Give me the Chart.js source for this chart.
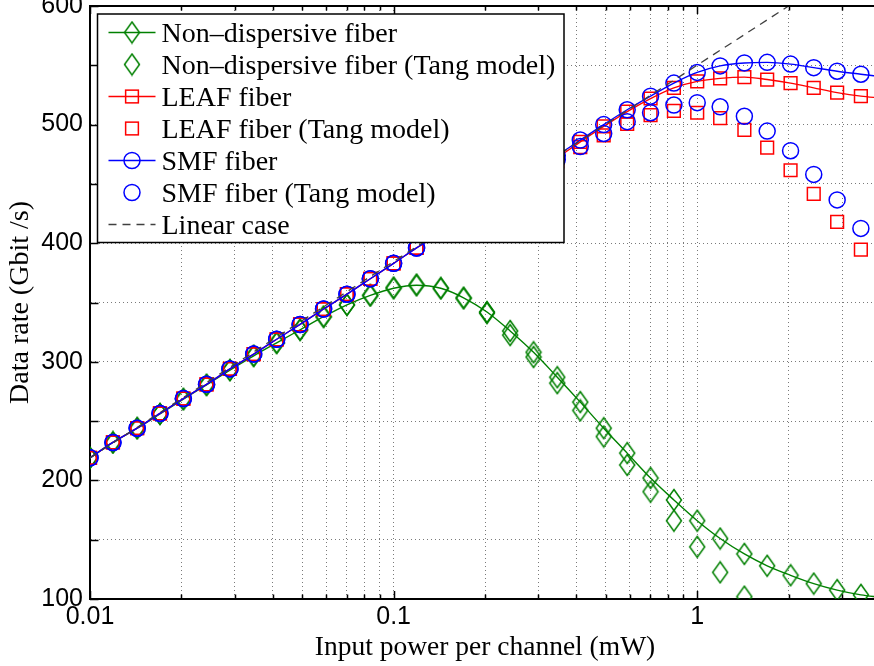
<!DOCTYPE html>
<html>
<head>
<meta charset="utf-8">
<script src="https://cdn.jsdelivr.net/npm/chart.js@4.4.0/dist/chart.umd.min.js"></script>
<style>
  html, body { margin: 0; padding: 0; background: #fff; overflow: hidden; }
  #wrap { width: 874px; height: 666px; overflow: hidden; }
</style>
</head>
<body>
<div id="wrap"><canvas id="chart" width="890" height="666"></canvas></div>
<script>
// input power per channel (mW), same grid for every curve
const powerMw = [0.01, 0.0119, 0.0143, 0.017, 0.0203, 0.0242, 0.0289, 0.0346, 0.0412, 0.0492,
  0.0588, 0.0702, 0.0838, 0.1, 0.119, 0.143, 0.17, 0.203, 0.242, 0.289,
  0.346, 0.412, 0.492, 0.588, 0.702, 0.838, 1, 1.19, 1.43, 1.7,
  2.03, 2.42, 2.89, 3.46];
// the solid curves run on to the right border of the axes
const curveEndMw = 4;

// data rate (Gbit/s)
const nonDispersive = [219, 232, 244, 256, 268.5, 280.5, 293, 305, 316, 327,
  338, 348, 356, 362, 364.5, 362, 354, 342, 326, 308,
  287, 266, 244, 223, 202, 183.5, 166, 151, 138, 128,
  120, 113, 107.5, 103.5];
const nonDispersiveEnd = 101.5;
const nonDispersiveTang = [219, 232, 244, 256, 268.5, 280.5, 293, 305, 316, 327,
  338, 348, 356, 362.5, 365, 362, 353.5, 341, 322.5, 304,
  282, 259, 237, 213, 190.5, 166, 144, 122.5, 102, null,
  null, null, null, null];

const leaf = [219, 232, 244, 256.5, 269, 281, 294, 306.5, 319, 331.5,
  344.5, 357, 370, 383, 396, 409, 421.5, 434, 446.5, 459,
  472, 485.5, 498.5, 511, 522, 531, 536.5, 539, 540, 538,
  535, 531, 527, 524];
const leafEnd = 522.5;
const leafTang = [219, 232, 244, 256.5, 269, 281, 294, 306.5, 319, 331.5,
  344.5, 357, 370, 383, 396, 408.5, 420.5, 432.5, 444.5, 456.5,
  469, 481, 491, 500.5, 508, 511.5, 510, 505.5, 495.5, 480.5,
  461.5, 441.5, 418, 394.5];

const smf = [219, 232, 244, 256.5, 269, 281, 294, 306.5, 319, 331.5,
  344.5, 357, 370, 383, 396, 409, 422, 435, 448, 461,
  474, 487, 500, 512.5, 524, 535, 544, 549.5, 552, 552.5,
  551, 548, 545, 542.5];
const smfEnd = 540.5;
const smfTang = [219, 232, 244, 256.5, 269, 281, 294, 306.5, 319, 331.5,
  344.5, 357, 370, 383, 396, 408.5, 421, 433.5, 446, 458,
  470.5, 481.5, 492.5, 502.5, 510, 516.5, 518.5, 515, 507, 494.5,
  478, 458, 436.5, 412.5];

const linearPower = [0.01, 2];
const linearRate = [219, 600];

const legendLabels = [
  'Non–dispersive fiber',
  'Non–dispersive fiber (Tang model)',
  'LEAF fiber',
  'LEAF fiber (Tang model)',
  'SMF fiber',
  'SMF fiber (Tang model)',
  'Linear case'
];
const xTickLabels = [0.01, 0.1, 1];
const yTickLabels = [100, 200, 300, 400, 500, 600];

const GREEN = '#008000';
const RED = '#ff0000';
const BLUE = '#0000ff';
const SERIF = '"Liberation Serif", serif';
const SANS = '"Liberation Sans", Arial, sans-serif';
const MARK_W = 1.5;

function toPoints(xs, ys) {
  return xs.map((x, i) => ({ x: x, y: ys[i] })).filter(p => p.y !== null);
}

// matlab style diamond, taller than wide
function diamondMarker(color) {
  const c = document.createElement('canvas');
  c.width = 18;
  c.height = 24;
  const g = c.getContext('2d');
  g.strokeStyle = color;
  g.lineWidth = MARK_W;
  g.beginPath();
  g.moveTo(9, 1.5);
  g.lineTo(16.5, 12);
  g.lineTo(9, 22.5);
  g.lineTo(1.5, 12);
  g.closePath();
  g.stroke();
  return c;
}
const diamond = diamondMarker(GREEN);

// no marker on the extra end point of a solid curve
const markerRadius = r => ctx => ctx.dataIndex >= powerMw.length ? 0 : r;

function isDecade(v) {
  const e = Math.log10(v);
  return Math.abs(e - Math.round(e)) < 1e-6;
}

const datasets = [
  {
    label: legendLabels[0],
    data: toPoints(powerMw.concat(curveEndMw), nonDispersive.concat(nonDispersiveEnd)),
    borderColor: GREEN, pointBorderColor: GREEN, pointBackgroundColor: 'transparent',
    borderWidth: 1.4, pointBorderWidth: MARK_W,
    pointStyle: diamond, pointRadius: markerRadius(8),
    cubicInterpolationMode: 'monotone', order: 6
  },
  {
    label: legendLabels[1],
    data: toPoints(powerMw, nonDispersiveTang),
    borderColor: GREEN, pointBorderColor: GREEN, pointBackgroundColor: 'transparent',
    pointBorderWidth: MARK_W, showLine: false,
    pointStyle: diamond, pointRadius: 8, order: 5
  },
  {
    label: legendLabels[2],
    data: toPoints(powerMw.concat(curveEndMw), leaf.concat(leafEnd)),
    borderColor: RED, pointBorderColor: RED, pointBackgroundColor: 'transparent',
    borderWidth: 1.4, pointBorderWidth: MARK_W,
    pointStyle: 'rect', pointRadius: markerRadius(9),
    cubicInterpolationMode: 'monotone', order: 4
  },
  {
    label: legendLabels[3],
    data: toPoints(powerMw, leafTang),
    borderColor: RED, pointBorderColor: RED, pointBackgroundColor: 'transparent',
    pointBorderWidth: MARK_W, showLine: false,
    pointStyle: 'rect', pointRadius: 9, order: 3
  },
  {
    label: legendLabels[4],
    data: toPoints(powerMw.concat(curveEndMw), smf.concat(smfEnd)),
    borderColor: BLUE, pointBorderColor: BLUE, pointBackgroundColor: 'transparent',
    borderWidth: 1.4, pointBorderWidth: MARK_W,
    pointStyle: 'circle', pointRadius: markerRadius(8),
    cubicInterpolationMode: 'monotone', order: 2
  },
  {
    label: legendLabels[5],
    data: toPoints(powerMw, smfTang),
    borderColor: BLUE, pointBorderColor: BLUE, pointBackgroundColor: 'transparent',
    pointBorderWidth: MARK_W, showLine: false,
    pointStyle: 'circle', pointRadius: 8, order: 1
  },
  {
    label: legendLabels[6],
    data: toPoints(linearPower, linearRate),
    borderColor: '#404040', borderWidth: 1.3, borderDash: [8, 6],
    pointRadius: 0, order: 0
  }
];

// top border and inward tick marks, like a matlab box
const frame = {
  id: 'frame',
  afterDatasetsDraw(chart) {
    const { ctx, chartArea: a, scales } = chart;
    ctx.save();
    ctx.strokeStyle = '#000';
    ctx.lineWidth = 2;
    ctx.beginPath();
    ctx.moveTo(a.left, a.top);
    ctx.lineTo(a.right, a.top);
    ctx.stroke();

    ctx.lineWidth = 1.5;
    ctx.beginPath();
    scales.x.ticks.forEach(t => {
      const px = Math.round(scales.x.getPixelForValue(t.value)) + 0.5;
      const len = isDecade(t.value) ? 8 : 4.5;
      ctx.moveTo(px, a.bottom);
      ctx.lineTo(px, a.bottom - len);
      ctx.moveTo(px, a.top);
      ctx.lineTo(px, a.top + len);
    });
    scales.y.ticks.forEach(t => {
      const py = Math.round(scales.y.getPixelForValue(t.value)) + 0.5;
      ctx.moveTo(a.left, py);
      ctx.lineTo(a.left + 8.5, py);
    });
    ctx.stroke();
    ctx.restore();
  }
};

// opaque legend box in the upper left corner of the axes
const legendBox = {
  id: 'legendBox',
  afterDatasetsDraw(chart) {
    const { ctx, chartArea: a } = chart;
    const left = a.left + 7.5;
    const top = a.top + 8;
    const w = 466.5;
    const h = 228.5;
    ctx.save();
    ctx.fillStyle = '#fff';
    ctx.fillRect(left, top, w, h);
    ctx.strokeStyle = '#000';
    ctx.lineWidth = 1.5;
    ctx.strokeRect(left, top, w, h);

    chart.data.datasets.forEach((ds, i) => {
      const cy = top + 18.5 + i * 32;
      const x0 = left + 11;
      const x1 = left + 58;
      const mx = (x0 + x1) / 2;
      ctx.strokeStyle = ds.borderColor;
      if (ds.showLine !== false) {
        ctx.lineWidth = ds.borderWidth;
        ctx.setLineDash(ds.borderDash || []);
        ctx.beginPath();
        ctx.moveTo(x0, cy);
        ctx.lineTo(x1, cy);
        ctx.stroke();
        ctx.setLineDash([]);
      }
      ctx.lineWidth = MARK_W;
      if (ds.pointStyle === 'circle') {
        ctx.beginPath();
        ctx.arc(mx, cy, 8, 0, Math.PI * 2);
        ctx.stroke();
      } else if (ds.pointStyle === 'rect') {
        const s = 9 * Math.SQRT1_2;
        ctx.strokeRect(mx - s, cy - s, 2 * s, 2 * s);
      } else if (ds.pointStyle) {
        ctx.drawImage(ds.pointStyle, mx - ds.pointStyle.width / 2, cy - ds.pointStyle.height / 2);
      }
      ctx.fillStyle = '#000';
      ctx.font = '28px ' + SERIF;
      ctx.textAlign = 'left';
      ctx.textBaseline = 'alphabetic';
      ctx.fillText(ds.label, left + 64, cy + 9.5);
    });
    ctx.restore();
  }
};

new Chart(document.getElementById('chart'), {
  type: 'line',
  data: { datasets: datasets },
  options: {
    responsive: false,
    animation: false,
    events: [],
    layout: { autoPadding: false, padding: { top: 6, right: 10, left: 0, bottom: 0 } },
    plugins: { legend: { display: false }, tooltip: { enabled: false } },
    scales: {
      x: {
        type: 'logarithmic',
        min: 0.01,
        max: 4,
        afterBuildTicks: s => {
          // keep only 1..9 x 10^n, the newer tick generator adds 1.5 steps
          s.ticks = s.ticks.filter(t => {
            const m = t.value / Math.pow(10, Math.floor(Math.log10(t.value) + 1e-9));
            return Math.abs(m - Math.round(m)) < 1e-6;
          });
        },
        ticks: {
          autoSkip: false,
          maxRotation: 0,
          padding: 6,
          color: '#000',
          font: { family: SANS, size: 25, lineHeight: 1 },
          callback: v => {
            const t = xTickLabels.find(l => Math.abs(v / l - 1) < 1e-6);
            return t === undefined ? '' : String(t);
          }
        },
        grid: { color: '#7a7a7a', lineWidth: 1, drawTicks: false },
        border: { display: true, color: '#000', width: 2, dash: [1, 3] },
        title: {
          display: true,
          text: 'Input power per channel (mW)',
          color: '#000',
          font: { family: SERIF, size: 27.5 },
          padding: { top: 0, bottom: 2 }
        },
        afterFit: s => {
          s.height = 67;
          s.paddingLeft = 0;
          s.paddingRight = 0;
        }
      },
      y: {
        min: 100,
        max: 600,
        ticks: {
          stepSize: 50,
          autoSkip: false,
          padding: 7,
          color: '#000',
          font: { family: SANS, size: 25 },
          callback: v => yTickLabels.includes(v) ? String(v) : ''
        },
        grid: { color: '#7a7a7a', lineWidth: 1, drawTicks: false },
        border: { display: true, color: '#000', width: 2, dash: [1, 3] },
        title: {
          display: true,
          text: 'Data rate (Gbit /s)',
          color: '#000',
          font: { family: SERIF, size: 28 },
          padding: { top: 4, bottom: 0 }
        },
        afterFit: s => {
          s.width = 90;
          s.paddingTop = 0;
          s.paddingBottom = 0;
        }
      }
    }
  },
  plugins: [frame, legendBox]
});
</script>
</body>
</html>
